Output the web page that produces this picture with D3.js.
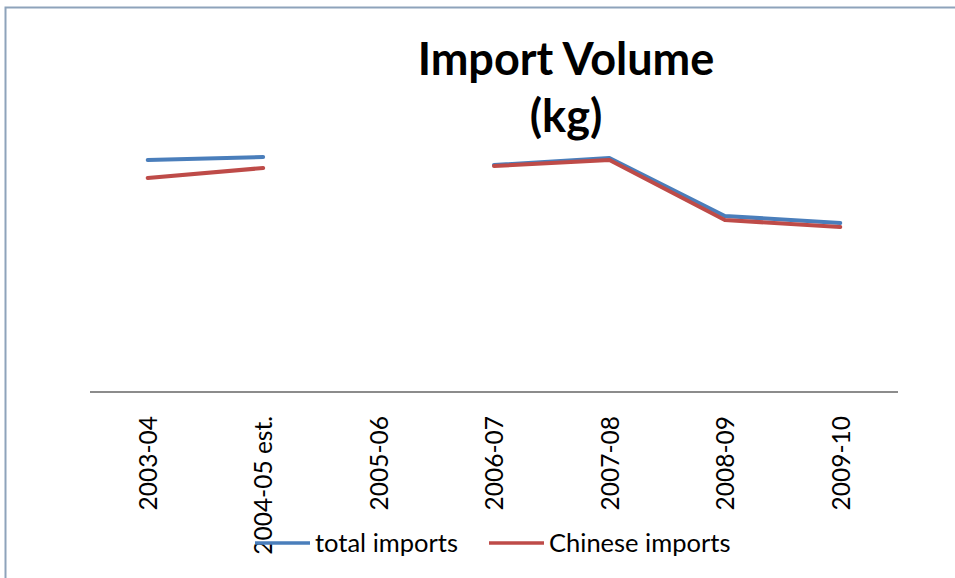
<!DOCTYPE html>
<html>
<head>
<meta charset="utf-8">
<script src="https://cdn.jsdelivr.net/npm/d3@7"></script>
<style>
  html, body { margin: 0; padding: 0; background: #ffffff; }
  svg { display: block; }
  text { font-family: Lato, "Open Sans", "DejaVu Sans", sans-serif; fill: #000; }
</style>
</head>
<body>
<svg id="chart" width="955" height="578"></svg>
<script>
// Marketing years on the category axis
const categories = ["2003-04", "2004-05 est.", "2005-06", "2006-07", "2007-08", "2008-09", "2009-10"];
// Import volume in kg (no figure reported for 2005-06)
const totalImports   = [464000, 470000, null, 454000, 468000, 352000, 338000];
const chineseImports = [428000, 448000, null, 452000, 464000, 344000, 330000];
const seriesNames = ["total imports", "Chinese imports"];
const seriesColors = ["#4a7ebb", "#be4b48"];
const titleLines = ["Import Volume", "(kg)"];

const svg = d3.select("#chart");
const W = 955, H = 578;

// Chart frame
svg.append("rect").attr("x", 0).attr("y", 0).attr("width", W).attr("height", H).attr("fill", "#fff");
svg.append("path")
  .attr("d", `M5.5,${H} V7.5 H${W}`)
  .attr("fill", "none").attr("stroke", "#8ea3bb").attr("stroke-width", 2);

// Plot area
const plot = { left: 90, right: 898, top: 42, bottom: 392 };

const x = d3.scalePoint().domain(categories).range([plot.left, plot.right]).padding(0.5);
const y = d3.scaleLinear().domain([0, 700000]).range([plot.bottom, plot.top]);

// Series lines, broken where a value is missing
const series = [totalImports, chineseImports];
const line = d3.line()
  .defined(d => d.v != null)
  .x(d => x(d.c))
  .y(d => y(d.v));

series.forEach((vals, i) => {
  svg.append("path")
    .datum(categories.map((c, j) => ({ c, v: vals[j] })))
    .attr("d", line)
    .attr("fill", "none")
    .attr("stroke", seriesColors[i])
    .attr("stroke-width", 4)
    .attr("stroke-linejoin", "round")
    .attr("stroke-linecap", "round");
});

// Category axis
const xAxis = d3.axisBottom(x).tickSize(0).tickPadding(0);
const gx = svg.append("g").attr("transform", `translate(0,${plot.bottom})`).call(xAxis);
gx.select(".domain").attr("stroke", "#8c8c8c").attr("stroke-width", 2)
  .attr("d", `M${plot.left},0H${plot.right}`);
gx.selectAll(".tick text")
  .attr("font-family", "Lato, 'Open Sans', sans-serif")
  .attr("font-size", 24.5)
  .attr("fill", "#000")
  .attr("text-anchor", "end")
  .attr("transform", "rotate(-90)")
  .attr("x", -24)
  .attr("y", 0)
  .attr("dy", "0.36em");

// Title
const title = svg.append("text")
  .attr("text-anchor", "middle")
  .attr("font-size", 45)
  .attr("font-weight", "bold");
titleLines.forEach((t, i) => {
  title.append("tspan").attr("x", 566).attr("y", 75 + i * 57).text(t);
});

// Legend
const legendItems = [
  { name: seriesNames[0], color: seriesColors[0], x: 255 },
  { name: seriesNames[1], color: seriesColors[1], x: 489 }
];
const lg = svg.append("g");
legendItems.forEach(it => {
  lg.append("line")
    .attr("x1", it.x).attr("x2", it.x + 55)
    .attr("y1", 543).attr("y2", 543)
    .attr("stroke", it.color).attr("stroke-width", 3.5);
  lg.append("text")
    .attr("x", it.x + 60).attr("y", 543)
    .attr("dy", "0.35em")
    .attr("font-size", 25.5)
    .text(it.name);
});
</script>
</body>
</html>
